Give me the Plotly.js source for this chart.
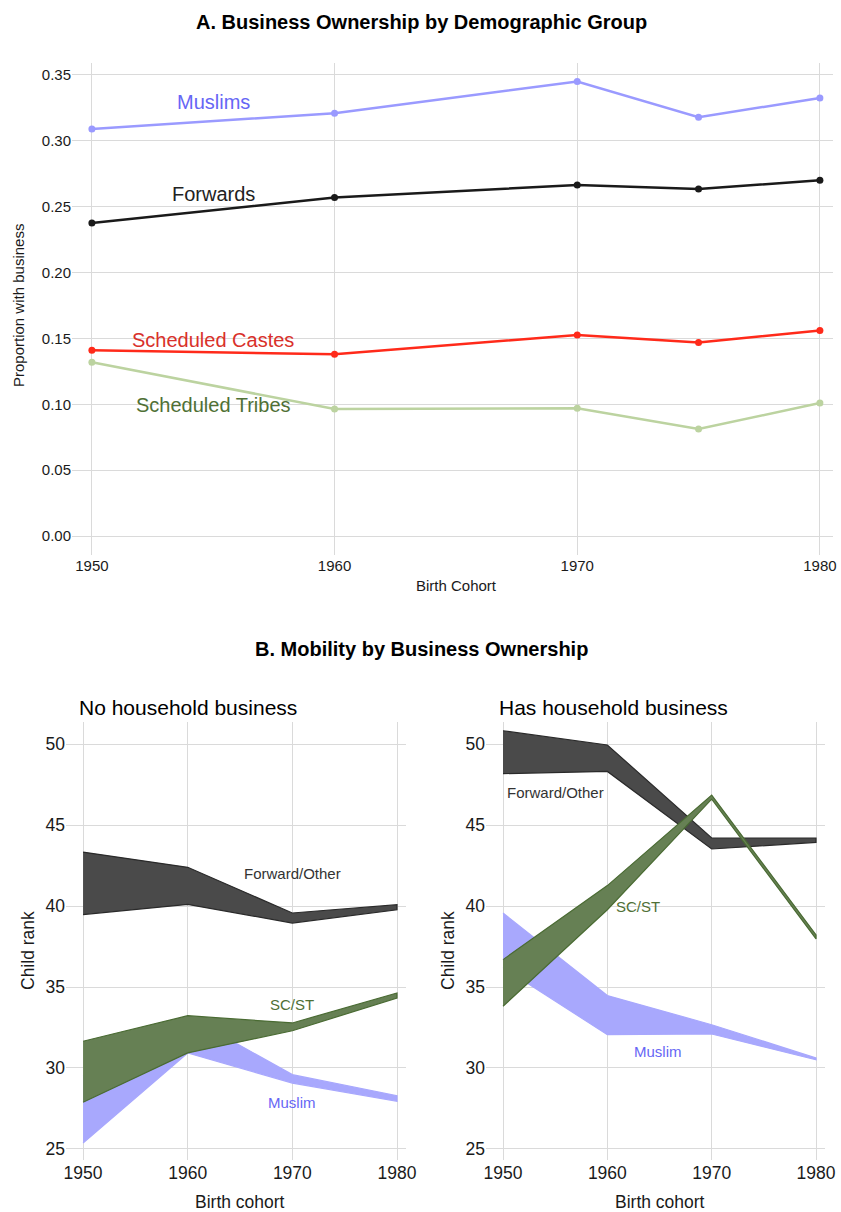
<!DOCTYPE html>
<html>
<head>
<meta charset="utf-8">
<script src="https://cdn.plot.ly/plotly-3.0.1.min.js"></script>
<style>
  html, body { margin: 0; padding: 0; background: #fff; }
  #chart { width: 841px; height: 1212px; }
</style>
</head>
<body>
<div id="chart"></div>
<script>
// panel A data
const cohortsA = [1950, 1960, 1970, 1975, 1980];
const muslims = [0.309, 0.321, 0.345, 0.318, 0.3325];
const forwards = [0.2376, 0.257, 0.2665, 0.2635, 0.270];
const schedCastes = [0.141, 0.138, 0.1526, 0.147, 0.156];
const schedTribes = [0.132, 0.0964, 0.097, 0.0812, 0.101];
const groupNamesA = ["Muslims", "Forwards", "Scheduled Castes", "Scheduled Tribes"];

// panel B data, lower / upper bounds of child rank
const cohortsB = [1950, 1960, 1970, 1980];
const fwdNoLo = [39.47, 40.1, 38.95, 39.77];
const fwdNoHi = [43.33, 42.39, 39.57, 40.08];
const musNoLo = [25.37, 30.93, 29.07, 27.94];
const musNoHi = [29.5, 33.2, 29.59, 28.29];
const scstNoLo = [27.88, 30.93, 32.3, 34.32];
const scstNoHi = [31.65, 33.23, 32.78, 34.63];

const fwdHasLo = [48.17, 48.31, 43.52, 43.93];
const fwdHasHi = [50.82, 49.94, 44.2, 44.2];
const musHasLo = [36.2, 32.06, 32.1, 30.51];
const musHasHi = [39.57, 34.47, 32.67, 30.62];
const scstHasLo = [33.81, 39.77, 46.6, 37.97];
const scstHasHi = [36.69, 41.26, 46.85, 38.22];
const groupNamesB = ["Forward/Other", "SC/ST", "Muslim"];

const FONT = "Liberation Sans, Arial, sans-serif";
const W = 841, H = 1212;

function px(v) { return v / W; }
function py(v) { return 1 - v / H; }

function lineTrace(y, color) {
    return {
        x: cohortsA, y: y, mode: 'lines+markers',
        line: { color: color, width: 2.5 },
        marker: { color: color, size: 7 },
        xaxis: 'x', yaxis: 'y', hoverinfo: 'skip'
    };
}

function band(lo, hi, fill, edge, xa, ya) {
    return {
        x: cohortsB.concat(cohortsB.slice().reverse()),
        y: hi.concat(lo.slice().reverse()),
        mode: 'lines', fill: 'toself', fillcolor: fill,
        line: { color: edge, width: 1.2 },
        xaxis: xa, yaxis: ya, hoverinfo: 'skip'
    };
}

let data = [
    lineTrace(muslims, '#9a9aff'),
    lineTrace(forwards, '#1a1a1a'),
    lineTrace(schedCastes, '#ff2a1a'),
    lineTrace(schedTribes, '#bcd3a0'),
    band(fwdNoLo, fwdNoHi, '#4a4a4a', '#2a2a2a', 'x2', 'y2'),
    band(musNoLo, musNoHi, '#a8a8fd', '#a8a8fd', 'x2', 'y2'),
    band(scstNoLo, scstNoHi, '#668054', '#4a6b33', 'x2', 'y2'),
    band(fwdHasLo, fwdHasHi, '#4a4a4a', '#2a2a2a', 'x3', 'y3'),
    band(musHasLo, musHasHi, '#a8a8fd', '#a8a8fd', 'x3', 'y3'),
    band(scstHasLo, scstHasHi, '#668054', '#4a6b33', 'x3', 'y3')
];

const gridColor = '#dadada';
function xAxis(domain, range, size) {
    return {
        domain: domain, range: range, tickvals: [1950, 1960, 1970, 1980],
        showgrid: true, gridcolor: gridColor, gridwidth: 1,
        zeroline: false, showline: false, ticks: '',
        tickfont: { family: FONT, size: size, color: '#1a1a1a' }
    };
}
function yAxis(domain, range, tickvals, fmt, size, anchor) {
    return {
        domain: domain, range: range, tickvals: tickvals, tickformat: fmt,
        anchor: anchor,
        showgrid: true, gridcolor: gridColor, gridwidth: 1,
        zeroline: false, showline: false, ticks: '',
        tickfont: { family: FONT, size: size, color: '#1a1a1a' }
    };
}

let annotations = [];
function note(text, x, y, xref, yref, size, color, extra) {
    annotations.push(Object.assign({
        text: text, x: x, y: y, xref: xref, yref: yref,
        xanchor: 'center', yanchor: 'middle',
        showarrow: false, font: { family: FONT, size: size, color: color }
    }, extra || {}));
}

// titles
note('<b>A. Business Ownership by Demographic Group</b>', px(421), py(22), 'paper', 'paper', 20, '#000');
note('<b>B. Mobility by Business Ownership</b>', px(421), py(649), 'paper', 'paper', 20, '#000');
note('Birth Cohort', px(456), py(585), 'paper', 'paper', 15, '#1a1a1a');
note('Proportion with business', px(18), py(306), 'paper', 'paper', 15, '#1a1a1a', { textangle: -90 });
note('No household business', px(77), py(707), 'paper', 'paper', 21, '#000', { xanchor: 'left' });
note('Has household business', px(497), py(707), 'paper', 'paper', 21, '#000', { xanchor: 'left' });
note('Birth cohort', px(240), py(1202), 'paper', 'paper', 17.5, '#1a1a1a');
note('Birth cohort', px(660), py(1202), 'paper', 'paper', 17.5, '#1a1a1a');
note('Child rank', px(28), py(951), 'paper', 'paper', 17.5, '#1a1a1a', { textangle: -90 });
note('Child rank', px(448), py(951), 'paper', 'paper', 17.5, '#1a1a1a', { textangle: -90 });

// group labels
note(groupNamesA[0], 1955, 0.3295, 'x', 'y', 20, '#6666f5');
note(groupNamesA[1], 1955, 0.2596, 'x', 'y', 20, '#222222');
note(groupNamesA[2], 1955, 0.1488, 'x', 'y', 20, '#d9302a');
note(groupNamesA[3], 1955, 0.0994, 'x', 'y', 20, '#4f7035');

note(groupNamesB[0], 1970, 42.0, 'x2', 'y2', 15, '#333333');
note(groupNamesB[1], 1970, 33.95, 'x2', 'y2', 15, '#4f7035');
note(groupNamesB[2], 1970, 27.9, 'x2', 'y2', 15, '#6666f5');
note(groupNamesB[0], 1955, 47.0, 'x3', 'y3', 15, '#333333');
note(groupNamesB[1], 1962.9, 39.95, 'x3', 'y3', 15, '#4f7035');
note(groupNamesB[2], 1964.9, 31.0, 'x3', 'y3', 15, '#6666f5');

let layout = {
    width: W, height: H,
    margin: { l: 0, r: 0, t: 0, b: 0 },
    paper_bgcolor: '#fff', plot_bgcolor: '#fff',
    showlegend: false,
    font: { family: FONT },
    xaxis: xAxis([px(72), px(833)], [1949.18, 1980.54], 15),
    yaxis: yAxis([py(555), py(63)], [-0.0144, 0.3591],
        [0, 0.05, 0.10, 0.15, 0.20, 0.25, 0.30, 0.35], '.2f', 15, 'x'),
    xaxis2: xAxis([px(66), px(406)], [1948.37, 1980.86], 17.5),
    yaxis2: yAxis([py(1160), py(722)], [24.32, 51.36], [25, 30, 35, 40, 45, 50], 'd', 17.5, 'x2'),
    xaxis3: xAxis([px(486), px(825)], [1948.37, 1980.86], 17.5),
    yaxis3: yAxis([py(1160), py(722)], [24.32, 51.36], [25, 30, 35, 40, 45, 50], 'd', 17.5, 'x3'),
    annotations: annotations
};
layout.xaxis.anchor = 'y';
layout.xaxis2.anchor = 'y2';
layout.xaxis3.anchor = 'y3';

Plotly.newPlot('chart', data, layout, { staticPlot: true });
</script>
</body>
</html>
